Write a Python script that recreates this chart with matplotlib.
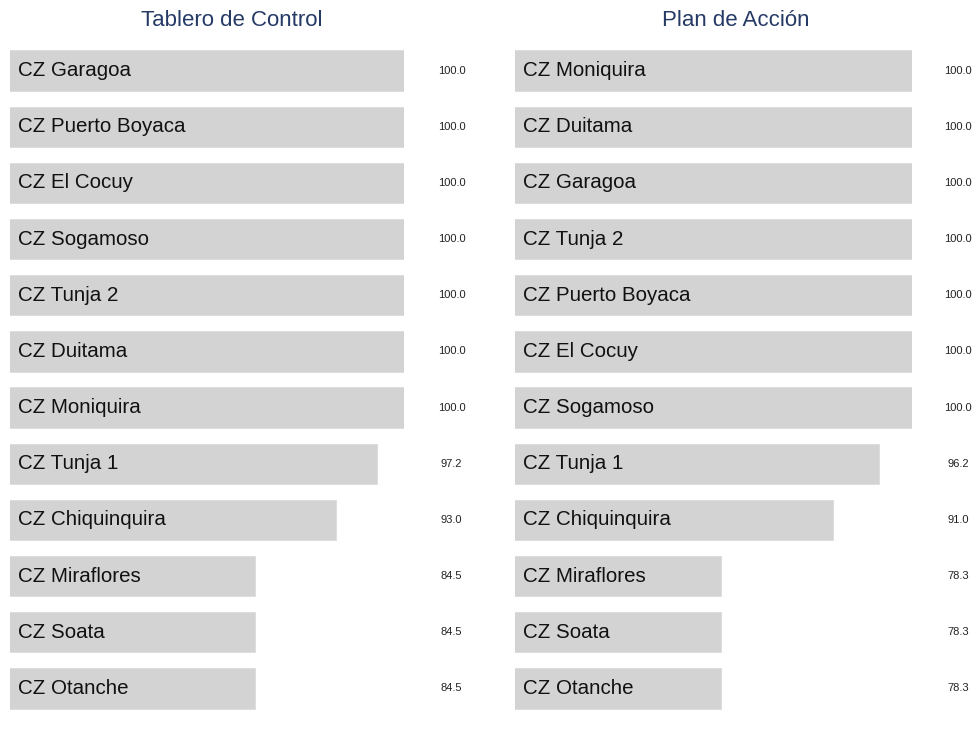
import matplotlib.pyplot as plt

plt.rcParams['font.family'] = ['Liberation Sans', 'DejaVu Sans']

# data
tablero_names = ['CZ Garagoa', 'CZ Puerto Boyaca', 'CZ El Cocuy', 'CZ Sogamoso', 'CZ Tunja 2',
                 'CZ Duitama', 'CZ Moniquira', 'CZ Tunja 1', 'CZ Chiquinquira', 'CZ Miraflores',
                 'CZ Soata', 'CZ Otanche']
tablero_vals = [100.0, 100.0, 100.0, 100.0, 100.0, 100.0, 100.0, 97.2, 93.0, 84.5, 84.5, 84.5]

plan_names = ['CZ Moniquira', 'CZ Duitama', 'CZ Garagoa', 'CZ Tunja 2', 'CZ Puerto Boyaca',
              'CZ El Cocuy', 'CZ Sogamoso', 'CZ Tunja 1', 'CZ Chiquinquira', 'CZ Miraflores',
              'CZ Soata', 'CZ Otanche']
plan_vals = [100.0, 100.0, 100.0, 100.0, 100.0, 100.0, 100.0, 96.2, 91.0, 78.3, 78.3, 78.3]

W, H = 972, 730
fig = plt.figure(figsize=(W / 100, H / 100), dpi=100)

bottom = 1 - 716.5 / H
top = 1 - 42.5 / H
panels = [
    ('Tablero de Control', tablero_names, tablero_vals, 10, 404, 1.121, 232),
    ('Plan de Acción', plan_names, plan_vals, 515, 912, 1.116, 736),
]

for title, names, vals, x0, x1, lab_x, title_x in panels:
    ax = fig.add_axes([x0 / W, bottom, (x1 - x0) / W, top - bottom])
    lo = 0.7 * min(vals)
    y = list(range(len(names)))
    ax.barh(y, vals, height=0.72, left=0, color='#d3d3d3', edgecolor='#dcdcdc', linewidth=0.6)
    ax.set_xlim(lo, max(vals))
    ax.set_ylim(len(names) - 0.5, -0.5)
    for yi, name, v in zip(y, names, vals):
        ax.annotate(name, xy=(0, yi), xycoords=('axes fraction', 'data'),
                    xytext=(6, 0), textcoords='offset points',
                    va='center', ha='left', fontsize=14.8, color='#111111')
        ax.annotate('{:.1f}'.format(v), xy=(lab_x, yi), xycoords=('axes fraction', 'data'),
                    va='center', ha='center', fontsize=8, color='#222222')
    ax.axis('off')
    fig.text(title_x / W, 1 - 20 / H, title, ha='center', va='center',
             fontsize=16, color='#263a66')

plt.savefig('out.png', dpi=100)
